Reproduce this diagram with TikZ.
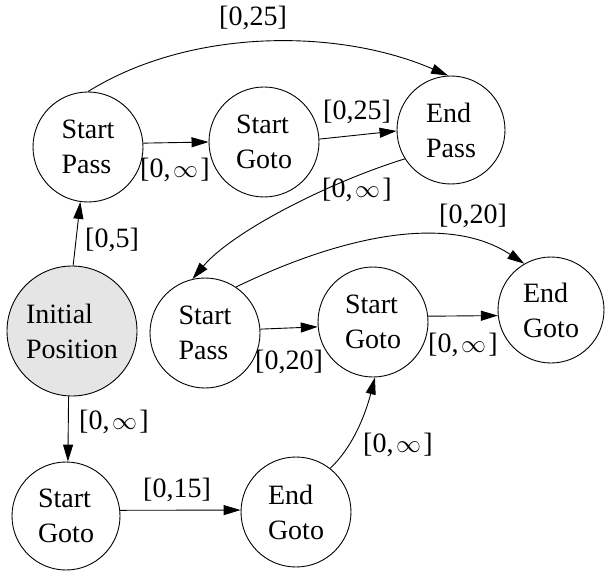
\documentclass[tikz,border=0pt]{standalone}
\usepackage{fontspec}
\setmainfont{Liberation Serif}
\usetikzlibrary{arrows.meta}
\newcommand{\inflbl}{[0,\hspace{2.5pt}$\infty$\hspace{2.5pt}]}
\begin{document}
\begin{tikzpicture}[x=1pt,y=-1pt,
  state/.style={circle,draw,line width=0.9pt,minimum size=110pt,inner sep=0pt,align=left,font=\fontsize{28}{35}\selectfont},
  lbl/.style={font=\fontsize{28}{34}\selectfont,inner sep=0pt},
  edge/.style={line width=0.9pt,-{Triangle[length=17pt,width=10pt]}}]
\useasboundingbox (0,0) rectangle (605,572);
\node[state] (sp1) at (88,147) {Start\\Pass};
\node[state] (sg1) at (264,142) {Start\\Goto};
\node[state,minimum size=108pt] (ep) at (451,130) {End\\Pass};
\node[state,minimum size=130pt,fill=gray!20] (init) at (72,331) {Initial\\Position};
\node[state] (sp2) at (205,333) {Start\\Pass};
\node[state] (sg2) at (373,322) {Start\\Goto};
\node[state,minimum size=106pt] (eg2) at (551,310) {End\\Goto};
\node[state,minimum size=108pt] (sg3) at (66,516) {Start\\Goto};
\node[state] (eg3) at (296,512) {End\\Goto};

\draw[edge] (init.89) -- (sp1.-98);
\draw[edge] (sp1.4) -- (sg1.180);
\draw[edge] (sg1.3) -- (ep.181);
\draw[edge] (sp1.90) .. controls (190,28) and (338,28) .. (ep.93);
\draw[edge] (ep.212) .. controls (327,183) and (232,232) .. (sp2.103);
\draw[edge] (sp2.4) -- (sg2.185);
\draw[edge] (sp2.56) .. controls (337,238) and (446,212) .. (eg2.120);
\draw[edge] (sg2.6) -- (eg2.186.5);
\draw[edge] (init.-93) -- (sg3.88);
\draw[edge] (sg3.6) -- (eg3.178);
\draw[edge] (eg3.52) .. controls (352,448) and (365,416) .. (sg2.-88);

\node[lbl] (l1) at (112,240) {[0,5]};
\node[lbl] (l2) at (175,170) {\inflbl};
\node[lbl] (l3) at (357,112) {[0,25]};
\node[lbl] (l4) at (253,18) {[0,25]};
\node[lbl] (l5) at (357,190) {\inflbl};
\node[lbl] (l6) at (289,362) {[0,20]};
\node[lbl] (l7) at (473,216) {[0,20]};
\node[lbl] (l8) at (463,345) {\inflbl};
\node[lbl] (l9) at (114,422) {\inflbl};
\node[lbl] (l10) at (177,490) {[0,15]};
\node[lbl] (l11) at (398,445) {\inflbl};
\end{tikzpicture}
\end{document}
